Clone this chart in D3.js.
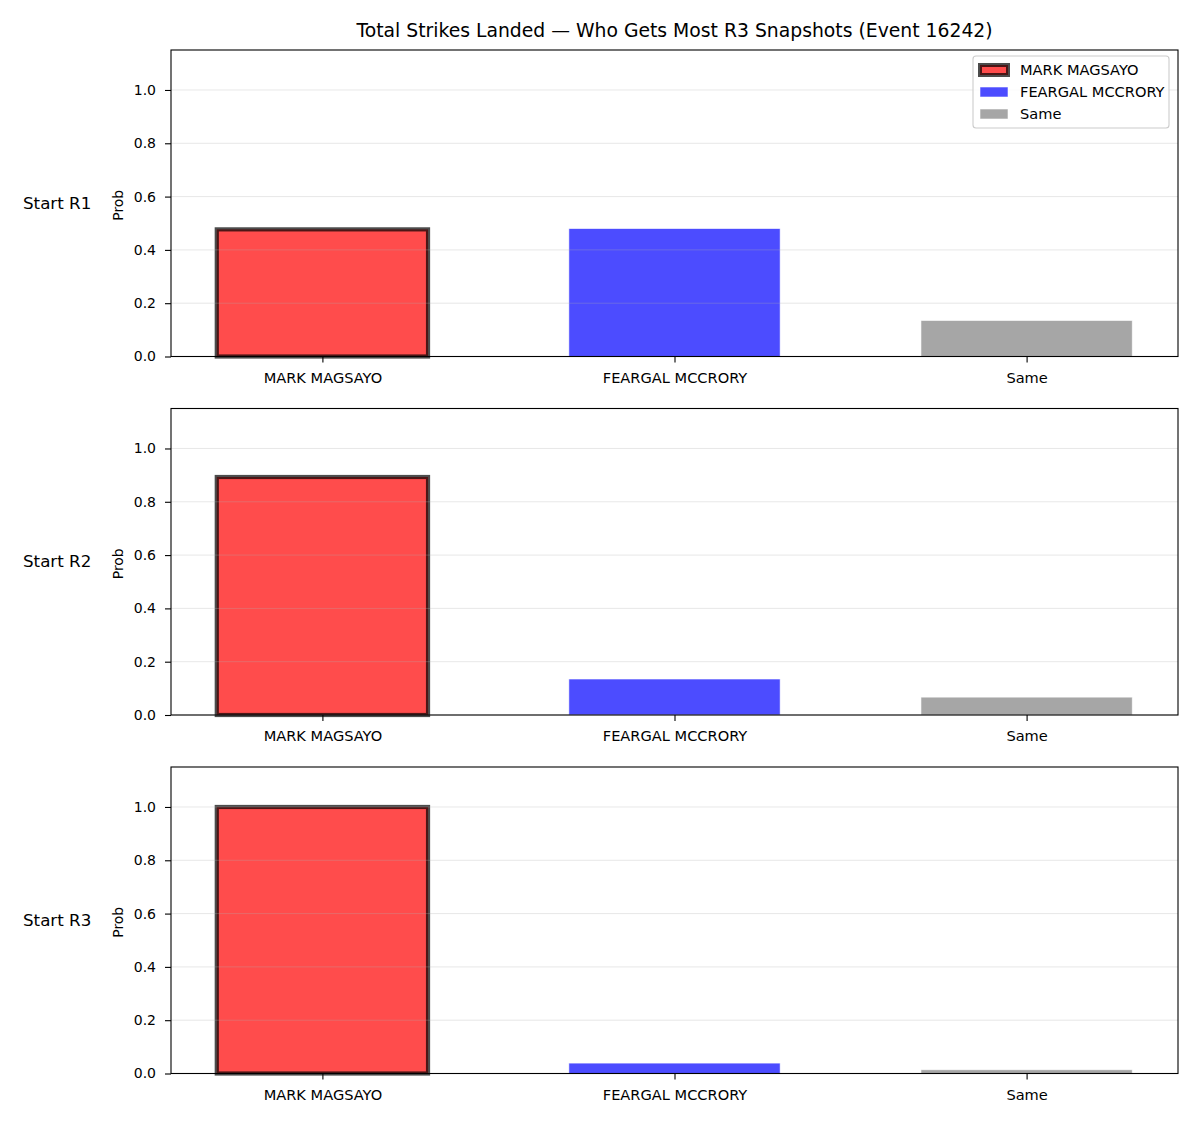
<!DOCTYPE html>
<html>
<head>
<meta charset="utf-8">
<script src="https://cdn.jsdelivr.net/npm/d3@7"></script>
<style>
  body { margin: 0; background: #fff; }
  text { font-family: "DejaVu Sans", sans-serif; fill: #000; }
</style>
</head>
<body>
<div id="canvas"></div>
<script>
// data
var categories = ["MARK MAGSAYO", "FEARGAL MCCRORY", "Same"];
var rounds = ["Start R1", "Start R2", "Start R3"];
var magsayoProb = [0.477, 0.893, 1.0];
var mccroryProb = [0.48, 0.135, 0.039];
var sameProb = [0.135, 0.067, 0.014];
var yTicks = [0, 0.2, 0.4, 0.6, 0.8, 1.0];
var barColors = ["#ff0000", "#0000ff", "#808080"];

var Chart = (function() {
    var that = { svg: null, w: 1200, h: 1125 };
    var left = 171, right = 1178, panelH = 306.5;
    var panelTops = [50, 408.5, 767];

    that.init = function() {
        that.svg = d3.select("#canvas").append("svg").attr("width", that.w).attr("height", that.h);
        that.svg.append("rect").attr("width", that.w).attr("height", that.h).attr("fill", "#fff");
        that.svg.append("text")
            .attr("x", (left + right) / 2).attr("y", 37)
            .attr("text-anchor", "middle")
            .style("font-size", "18.8px")
            .text("Total Strikes Landed \u2014 Who Gets Most R3 Snapshots (Event 16242)");
    };

    that.drawPanel = function(i) {
        var values = [magsayoProb[i], mccroryProb[i], sameProb[i]];
        var top = panelTops[i];
        var g = that.svg.append("g").attr("transform", "translate(0," + top + ")");

        // bars at 0,1,2 width 0.6, 5% margins either side
        var x = d3.scaleLinear().domain([-0.43, 2.43]).range([left, right]);
        var y = d3.scaleLinear().domain([0, 1.15]).range([panelH, 0]);

        // bars
        g.selectAll("rect.bar").data(values).enter().append("rect")
            .attr("class", "bar")
            .attr("x", (d, k) => x(k - 0.3))
            .attr("width", (d, k) => x(k + 0.3) - x(k - 0.3))
            .attr("y", d => y(d))
            .attr("height", d => y(0) - y(d))
            .attr("fill", (d, k) => barColors[k])
            .attr("fill-opacity", 0.7)
            .attr("stroke", (d, k) => k == 0 ? "#000" : "#fff")
            .attr("stroke-opacity", 0.7)
            .attr("stroke-width", (d, k) => k == 0 ? 4.2 : 0.8);

        // grid on top of the bars, faint
        g.selectAll("line.grid").data(yTicks).enter().append("line")
            .attr("x1", left).attr("x2", right)
            .attr("y1", d => y(d)).attr("y2", d => y(d))
            .attr("stroke", "#b0b0b0").attr("stroke-opacity", 0.3).attr("stroke-width", 1);

        // y axis
        var yAxis = d3.axisLeft(y).tickValues(yTicks).tickFormat(d3.format(".1f")).tickSize(6).tickPadding(9);
        var ya = g.append("g").attr("transform", "translate(" + left + ",0)").call(yAxis);
        ya.select(".domain").remove();
        ya.selectAll("text").style("font-size", "14px").style("font-family", "DejaVu Sans");
        ya.selectAll("line").attr("stroke", "#000").attr("stroke-width", 1.1);

        // x axis
        var xAxis = d3.axisBottom(x).tickValues([0, 1, 2]).tickFormat(k => categories[k]).tickSize(6).tickPadding(10);
        var xa = g.append("g").attr("transform", "translate(0," + panelH + ")").call(xAxis);
        xa.select(".domain").remove();
        xa.selectAll("text").style("font-size", "14.6px").style("font-family", "DejaVu Sans");
        xa.selectAll("line").attr("stroke", "#000").attr("stroke-width", 1.1);

        // frame
        g.append("rect")
            .attr("x", left).attr("y", 0)
            .attr("width", right - left).attr("height", panelH)
            .attr("fill", "none").attr("stroke", "#000").attr("stroke-width", 1.1);

        // y label
        g.append("text")
            .attr("transform", "translate(123," + (panelH / 2 + 2) + ") rotate(-90)")
            .attr("text-anchor", "middle")
            .style("font-size", "13.9px")
            .text("Prob");

        // row label
        g.append("text")
            .attr("x", 23).attr("y", y(0.6) + 12)
            .style("font-size", "16.7px")
            .text(rounds[i]);

        if (i == 0) that.drawLegend(g);
    };

    that.drawLegend = function(g) {
        var lx = 973, ly = 6, lw = 196, lh = 72;
        var lg = g.append("g");
        lg.append("rect")
            .attr("x", lx).attr("y", ly).attr("width", lw).attr("height", lh)
            .attr("rx", 3).attr("fill", "#fff").attr("fill-opacity", 0.8)
            .attr("stroke", "#ccc").attr("stroke-width", 1.1);
        categories.forEach(function(name, k) {
            var cy = ly + 14 + k * 22;
            lg.append("rect")
                .attr("x", lx + 7).attr("y", cy - 5)
                .attr("width", 28).attr("height", 10)
                .attr("fill", barColors[k]).attr("fill-opacity", 0.7)
                .attr("stroke", k == 0 ? "#000" : "#fff")
                .attr("stroke-opacity", 0.7)
                .attr("stroke-width", k == 0 ? 4 : 0.8);
            lg.append("text")
                .attr("x", lx + 47).attr("y", cy + 5)
                .style("font-size", "14.6px")
                .text(name);
        });
    };

    return that;
})();

Chart.init();
rounds.forEach(function(r, i) { Chart.drawPanel(i); });
</script>
</body>
</html>
